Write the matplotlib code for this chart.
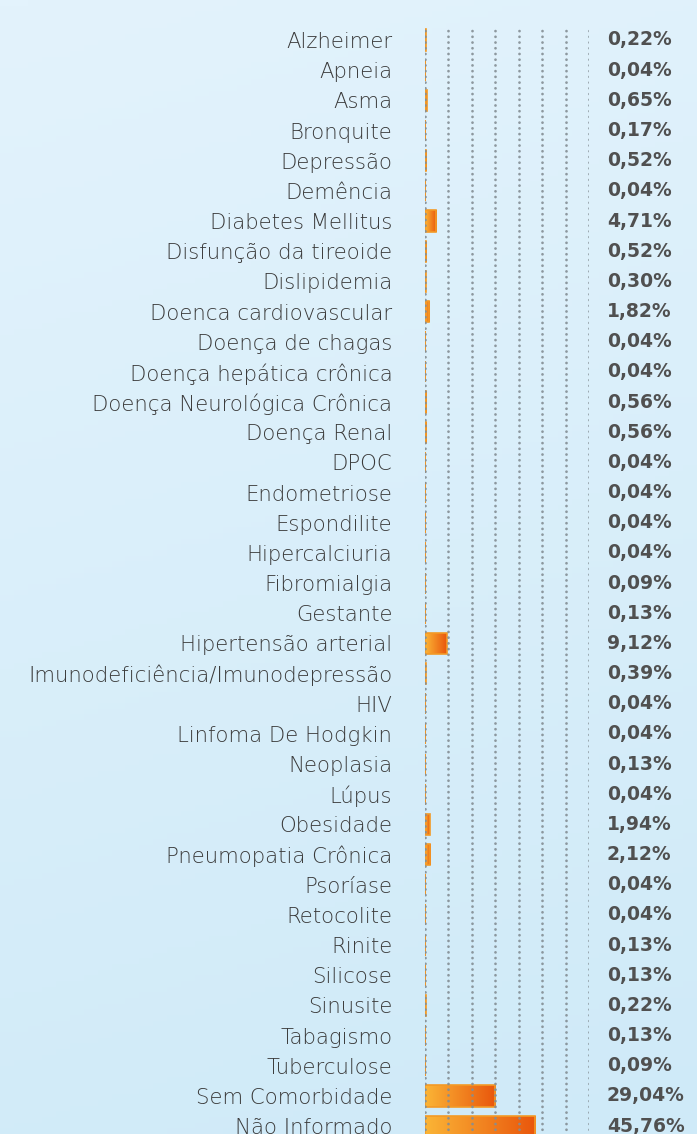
import numpy as np
import matplotlib
matplotlib.use("Agg")
import matplotlib.pyplot as plt
from matplotlib.colors import LinearSegmentedColormap
from matplotlib.transforms import blended_transform_factory

categories = [
    "Alzheimer", "Apneia", "Asma", "Bronquite", "Depressão", "Demência",
    "Diabetes Mellitus", "Disfunção da tireoide", "Dislipidemia",
    "Doenca cardiovascular", "Doença de chagas", "Doença hepática crônica",
    "Doença Neurológica Crônica", "Doença Renal", "DPOC", "Endometriose",
    "Espondilite", "Hipercalciuria", "Fibromialgia", "Gestante",
    "Hipertensão arterial", "Imunodeficiência/Imunodepressão", "HIV",
    "Linfoma De Hodgkin", "Neoplasia", "Lúpus", "Obesidade",
    "Pneumopatia Crônica", "Psoríase", "Retocolite", "Rinite", "Silicose",
    "Sinusite", "Tabagismo", "Tuberculose", "Sem Comorbidade", "Não Informado",
]
values = [
    0.22, 0.04, 0.65, 0.17, 0.52, 0.04, 4.71, 0.52, 0.30, 1.82, 0.04, 0.04,
    0.56, 0.56, 0.04, 0.04, 0.04, 0.04, 0.09, 0.13, 9.12, 0.39, 0.04, 0.04,
    0.13, 0.04, 1.94, 2.12, 0.04, 0.04, 0.13, 0.13, 0.22, 0.13, 0.09, 29.04,
    45.76,
]
value_labels = [f"{v:.2f}".replace(".", ",") + "%" for v in values]

W, H = 697, 1134
fig = plt.figure(figsize=(W / 100, H / 100), dpi=100)

# background gradient
bg = fig.add_axes([0, 0, 1, 1], zorder=-10)
bg_cmap = LinearSegmentedColormap.from_list("bg", ["#e3f3fc", "#cfeaf8"])
gy, gx = np.mgrid[0:1:200j, 0:1:50j]
bg.imshow(gy * 0.85 + gx * 0.15, cmap=bg_cmap, aspect="auto", extent=(0, 1, 1, 0))
bg.set_axis_off()

n = len(categories)
row = 30.17
top_px = 40 - row / 2
bottom_px = top_px + n * row
x0_px, x1_px = 425, 589
xmax = 68.0

ax = fig.add_axes([x0_px / W, 1 - bottom_px / H, (x1_px - x0_px) / W, (bottom_px - top_px) / H])
ax.patch.set_alpha(0)
ax.set_xlim(0, xmax)
ax.set_ylim(n - 0.5, -0.5)

for gxv in np.linspace(0, xmax, 8):
    ax.axvline(gxv, color="#848e94", lw=2.0, ls=(0, (0.01, 2.05)),
               dash_capstyle="round", zorder=4, alpha=0.9)

bar_cmap = LinearSegmentedColormap.from_list("bar", ["#fbb536", "#e9560c"])
grad = np.linspace(0, 1, 256).reshape(1, -1)
y = np.arange(n)
bars = ax.barh(y, values, height=0.7, color="none", edgecolor="#f39a26",
               linewidth=1.2, zorder=3)
for b in bars:
    x, yb, w, h = b.get_x(), b.get_y(), b.get_width(), b.get_height()
    im = ax.imshow(grad, cmap=bar_cmap, aspect="auto",
                   extent=(x, x + w, yb, yb + h), zorder=2)
    im.set_clip_path(b)
ax.set_xlim(0, xmax)
ax.set_ylim(n - 0.5, -0.5)

ax.set_yticks(y)
ax.set_yticklabels(categories, fontfamily="DejaVu Sans", fontweight="light",
                   fontsize=15.3, color="#3a3a3a")
ax.tick_params(axis="y", length=0, pad=23.5)
ax.set_xticks([])
for s in ax.spines.values():
    s.set_visible(False)

tr = blended_transform_factory(fig.transFigure, ax.transData)
for i, lab in enumerate(value_labels):
    ax.text(607 / W, i, lab, transform=tr, ha="left", va="center",
            fontfamily="DejaVu Sans", fontweight="bold", fontsize=13.5,
            color="#505050")

fig.savefig("out.png", dpi=100)
